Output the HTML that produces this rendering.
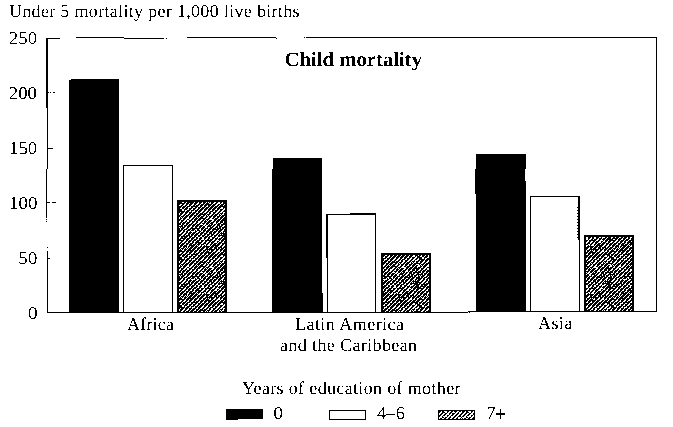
<!DOCTYPE html>
<html><head><meta charset="utf-8"><style>
html,body{margin:0;padding:0;background:#fff;width:673px;height:427px;overflow:hidden}
svg{display:block}
svg text{fill:#000;text-rendering:geometricPrecision}
svg{font-family:"Liberation Serif",serif;font-size:18px}
</style></head><body>
<svg width="673" height="427" viewBox="0 0 673 427">
<defs>
<filter id="thr" x="0" y="0" width="100%" height="100%" filterUnits="userSpaceOnUse" color-interpolation-filters="sRGB"><feComponentTransfer><feFuncA type="discrete" tableValues="0 0 1 1"/></feComponentTransfer></filter>
<pattern id="h" width="48" height="48" patternUnits="userSpaceOnUse">
<rect width="48" height="48" fill="#000"/>
<path fill="#fff" d="M0 0h1v1h-1zM4 0h1v1h-1zM8 0h1v1h-1zM12 0h1v1h-1zM20 0h2v1h-2zM24 0h3v1h-3zM28 0h1v1h-1zM32 0h1v1h-1zM40 0h2v1h-2zM44 0h1v1h-1zM2 1h2v1h-2zM7 1h2v1h-2zM11 1h2v1h-2zM15 1h2v1h-2zM19 1h1v1h-1zM23 1h2v1h-2zM27 1h2v1h-2zM31 1h1v1h-1zM35 1h2v1h-2zM39 1h2v1h-2zM43 1h1v1h-1zM47 1h1v1h-1zM2 2h1v1h-1zM10 2h2v1h-2zM14 2h2v1h-2zM18 2h1v1h-1zM22 2h3v1h-3zM26 2h1v1h-1zM30 2h2v1h-2zM34 2h2v1h-2zM38 2h2v1h-2zM42 2h2v1h-2zM46 2h2v1h-2zM1 3h2v1h-2zM5 3h1v1h-1zM9 3h2v1h-2zM14 3h1v1h-1zM17 3h2v1h-2zM21 3h1v1h-1zM25 3h1v1h-1zM29 3h1v1h-1zM33 3h1v1h-1zM37 3h1v1h-1zM41 3h1v1h-1zM45 3h1v1h-1zM0 4h1v1h-1zM4 4h1v1h-1zM8 4h1v1h-1zM12 4h2v1h-2zM16 4h2v1h-2zM20 4h1v1h-1zM24 4h1v1h-1zM28 4h2v1h-2zM32 4h1v1h-1zM36 4h1v1h-1zM40 4h2v1h-2zM44 4h1v1h-1zM3 5h1v1h-1zM5 5h1v1h-1zM7 5h2v1h-2zM10 5h2v1h-2zM13 5h1v1h-1zM15 5h3v1h-3zM19 5h1v1h-1zM27 5h2v1h-2zM31 5h2v1h-2zM35 5h1v1h-1zM39 5h1v1h-1zM43 5h2v1h-2zM2 6h1v1h-1zM6 6h2v1h-2zM10 6h1v1h-1zM18 6h1v1h-1zM22 6h1v1h-1zM26 6h2v1h-2zM30 6h2v1h-2zM34 6h2v1h-2zM38 6h1v1h-1zM43 6h1v1h-1zM46 6h1v1h-1zM1 7h1v1h-1zM5 7h1v1h-1zM9 7h1v1h-1zM13 7h1v1h-1zM17 7h1v1h-1zM21 7h1v1h-1zM25 7h1v1h-1zM30 7h1v1h-1zM33 7h1v1h-1zM37 7h2v1h-2zM41 7h1v1h-1zM43 7h1v1h-1zM45 7h1v1h-1zM0 8h1v1h-1zM4 8h1v1h-1zM8 8h1v1h-1zM12 8h2v1h-2zM16 8h1v1h-1zM20 8h2v1h-2zM25 8h1v1h-1zM28 8h1v1h-1zM32 8h1v1h-1zM36 8h1v1h-1zM40 8h1v1h-1zM42 8h1v1h-1zM44 8h1v1h-1zM3 9h2v1h-2zM7 9h1v1h-1zM11 9h2v1h-2zM23 9h1v1h-1zM27 9h1v1h-1zM31 9h1v1h-1zM35 9h1v1h-1zM37 9h1v1h-1zM39 9h1v1h-1zM43 9h1v1h-1zM47 9h1v1h-1zM2 10h1v1h-1zM6 10h1v1h-1zM10 10h1v1h-1zM14 10h1v1h-1zM16 10h1v1h-1zM18 10h1v1h-1zM22 10h2v1h-2zM26 10h2v1h-2zM30 10h1v1h-1zM33 10h2v1h-2zM38 10h2v1h-2zM42 10h1v1h-1zM1 11h1v1h-1zM5 11h2v1h-2zM9 11h2v1h-2zM13 11h1v1h-1zM17 11h2v1h-2zM21 11h2v1h-2zM25 11h3v1h-3zM29 11h2v1h-2zM33 11h1v1h-1zM41 11h1v1h-1zM45 11h1v1h-1zM0 12h2v1h-2zM4 12h2v1h-2zM8 12h1v1h-1zM12 12h1v1h-1zM20 12h1v1h-1zM24 12h2v1h-2zM28 12h1v1h-1zM32 12h1v1h-1zM36 12h2v1h-2zM40 12h2v1h-2zM44 12h1v1h-1zM0 13h1v1h-1zM3 13h1v1h-1zM7 13h1v1h-1zM11 13h1v1h-1zM15 13h1v1h-1zM19 13h1v1h-1zM23 13h2v1h-2zM27 13h1v1h-1zM31 13h1v1h-1zM35 13h2v1h-2zM39 13h2v1h-2zM43 13h2v1h-2zM47 13h1v1h-1zM6 14h2v1h-2zM10 14h2v1h-2zM14 14h2v1h-2zM18 14h1v1h-1zM22 14h1v1h-1zM26 14h1v1h-1zM34 14h1v1h-1zM38 14h1v1h-1zM42 14h1v1h-1zM46 14h1v1h-1zM1 15h2v1h-2zM5 15h1v1h-1zM9 15h1v1h-1zM13 15h1v1h-1zM17 15h1v1h-1zM21 15h1v1h-1zM25 15h1v1h-1zM29 15h2v1h-2zM34 15h1v1h-1zM37 15h1v1h-1zM41 15h1v1h-1zM44 15h3v1h-3zM0 16h1v1h-1zM4 16h2v1h-2zM8 16h1v1h-1zM12 16h1v1h-1zM16 16h1v1h-1zM20 16h1v1h-1zM24 16h1v1h-1zM28 16h3v1h-3zM32 16h1v1h-1zM36 16h2v1h-2zM40 16h1v1h-1zM44 16h1v1h-1zM0 17h1v1h-1zM3 17h2v1h-2zM7 17h1v1h-1zM11 17h1v1h-1zM15 17h1v1h-1zM19 17h1v1h-1zM23 17h2v1h-2zM27 17h1v1h-1zM31 17h2v1h-2zM38 17h2v1h-2zM43 17h2v1h-2zM47 17h1v1h-1zM2 18h1v1h-1zM6 18h1v1h-1zM10 18h2v1h-2zM14 18h2v1h-2zM18 18h2v1h-2zM22 18h1v1h-1zM26 18h2v1h-2zM30 18h2v1h-2zM34 18h1v1h-1zM38 18h2v1h-2zM41 18h2v1h-2zM46 18h1v1h-1zM0 19h3v1h-3zM5 19h1v1h-1zM9 19h2v1h-2zM13 19h2v1h-2zM17 19h1v1h-1zM21 19h2v1h-2zM25 19h2v1h-2zM29 19h2v1h-2zM33 19h2v1h-2zM41 19h1v1h-1zM45 19h2v1h-2zM0 20h1v1h-1zM4 20h2v1h-2zM8 20h2v1h-2zM12 20h2v1h-2zM16 20h1v1h-1zM19 20h2v1h-2zM24 20h2v1h-2zM28 20h2v1h-2zM31 20h3v1h-3zM36 20h1v1h-1zM40 20h1v1h-1zM44 20h1v1h-1zM3 21h1v1h-1zM7 21h1v1h-1zM11 21h1v1h-1zM15 21h2v1h-2zM19 21h2v1h-2zM23 21h2v1h-2zM27 21h1v1h-1zM31 21h1v1h-1zM35 21h1v1h-1zM39 21h2v1h-2zM43 21h2v1h-2zM47 21h1v1h-1zM2 22h2v1h-2zM6 22h1v1h-1zM14 22h1v1h-1zM18 22h2v1h-2zM22 22h1v1h-1zM26 22h1v1h-1zM28 22h1v1h-1zM30 22h2v1h-2zM34 22h2v1h-2zM38 22h2v1h-2zM42 22h2v1h-2zM46 22h1v1h-1zM1 23h1v1h-1zM5 23h1v1h-1zM9 23h2v1h-2zM13 23h1v1h-1zM15 23h1v1h-1zM17 23h2v1h-2zM21 23h1v1h-1zM25 23h2v1h-2zM29 23h1v1h-1zM37 23h2v1h-2zM41 23h1v1h-1zM45 23h1v1h-1zM0 24h2v1h-2zM4 24h1v1h-1zM8 24h1v1h-1zM12 24h2v1h-2zM16 24h1v1h-1zM20 24h1v1h-1zM24 24h1v1h-1zM28 24h1v1h-1zM32 24h3v1h-3zM36 24h1v1h-1zM40 24h1v1h-1zM44 24h1v1h-1zM0 25h1v1h-1zM3 25h1v1h-1zM5 25h1v1h-1zM7 25h1v1h-1zM11 25h2v1h-2zM15 25h2v1h-2zM19 25h2v1h-2zM23 25h2v1h-2zM27 25h1v1h-1zM31 25h1v1h-1zM34 25h2v1h-2zM37 25h1v1h-1zM39 25h1v1h-1zM43 25h2v1h-2zM47 25h1v1h-1zM2 26h1v1h-1zM6 26h1v1h-1zM14 26h2v1h-2zM18 26h2v1h-2zM22 26h1v1h-1zM26 26h2v1h-2zM30 26h1v1h-1zM33 26h3v1h-3zM38 26h1v1h-1zM42 26h3v1h-3zM46 26h2v1h-2zM1 27h1v1h-1zM5 27h1v1h-1zM9 27h2v1h-2zM13 27h1v1h-1zM17 27h5v1h-5zM25 27h1v1h-1zM29 27h1v1h-1zM33 27h1v1h-1zM37 27h2v1h-2zM41 27h2v1h-2zM45 27h2v1h-2zM0 28h2v1h-2zM4 28h1v1h-1zM8 28h2v1h-2zM12 28h1v1h-1zM14 28h1v1h-1zM16 28h1v1h-1zM20 28h2v1h-2zM24 28h1v1h-1zM28 28h1v1h-1zM36 28h1v1h-1zM40 28h2v1h-2zM43 28h2v1h-2zM3 29h1v1h-1zM6 29h3v1h-3zM11 29h1v1h-1zM15 29h1v1h-1zM19 29h2v1h-2zM23 29h1v1h-1zM27 29h1v1h-1zM31 29h1v1h-1zM35 29h2v1h-2zM39 29h2v1h-2zM43 29h2v1h-2zM47 29h1v1h-1zM2 30h2v1h-2zM6 30h2v1h-2zM10 30h2v1h-2zM14 30h1v1h-1zM18 30h1v1h-1zM22 30h2v1h-2zM26 30h2v1h-2zM31 30h1v1h-1zM34 30h2v1h-2zM38 30h1v1h-1zM42 30h1v1h-1zM46 30h2v1h-2zM1 31h2v1h-2zM5 31h2v1h-2zM9 31h1v1h-1zM13 31h1v1h-1zM17 31h1v1h-1zM21 31h3v1h-3zM25 31h1v1h-1zM29 31h2v1h-2zM33 31h1v1h-1zM37 31h1v1h-1zM41 31h1v1h-1zM45 31h2v1h-2zM0 32h1v1h-1zM4 32h1v1h-1zM8 32h3v1h-3zM12 32h2v1h-2zM16 32h1v1h-1zM18 32h1v1h-1zM21 32h1v1h-1zM24 32h1v1h-1zM28 32h1v1h-1zM37 32h1v1h-1zM40 32h2v1h-2zM44 32h1v1h-1zM3 33h1v1h-1zM7 33h1v1h-1zM11 33h2v1h-2zM14 33h2v1h-2zM20 33h1v1h-1zM23 33h2v1h-2zM28 33h1v1h-1zM31 33h2v1h-2zM35 33h2v1h-2zM39 33h1v1h-1zM43 33h1v1h-1zM47 33h1v1h-1zM2 34h1v1h-1zM6 34h1v1h-1zM10 34h1v1h-1zM13 34h2v1h-2zM19 34h1v1h-1zM22 34h2v1h-2zM26 34h1v1h-1zM30 34h2v1h-2zM39 34h1v1h-1zM42 34h1v1h-1zM46 34h2v1h-2zM1 35h2v1h-2zM5 35h2v1h-2zM9 35h1v1h-1zM13 35h2v1h-2zM16 35h2v1h-2zM21 35h2v1h-2zM26 35h1v1h-1zM29 35h1v1h-1zM33 35h1v1h-1zM35 35h1v1h-1zM37 35h1v1h-1zM41 35h2v1h-2zM45 35h2v1h-2zM8 36h1v1h-1zM12 36h1v1h-1zM16 36h1v1h-1zM20 36h1v1h-1zM24 36h1v1h-1zM29 36h1v1h-1zM32 36h2v1h-2zM36 36h1v1h-1zM40 36h2v1h-2zM44 36h2v1h-2zM3 37h2v1h-2zM7 37h2v1h-2zM11 37h1v1h-1zM14 37h2v1h-2zM19 37h1v1h-1zM27 37h1v1h-1zM31 37h1v1h-1zM36 37h1v1h-1zM39 37h1v1h-1zM43 37h1v1h-1zM47 37h1v1h-1zM2 38h1v1h-1zM4 38h1v1h-1zM8 38h1v1h-1zM10 38h1v1h-1zM14 38h1v1h-1zM18 38h2v1h-2zM22 38h2v1h-2zM26 38h1v1h-1zM30 38h2v1h-2zM38 38h1v1h-1zM41 38h2v1h-2zM46 38h1v1h-1zM0 39h3v1h-3zM5 39h2v1h-2zM9 39h2v1h-2zM13 39h1v1h-1zM17 39h1v1h-1zM21 39h1v1h-1zM25 39h1v1h-1zM29 39h2v1h-2zM33 39h1v1h-1zM37 39h2v1h-2zM41 39h1v1h-1zM44 39h2v1h-2zM47 39h1v1h-1zM0 40h1v1h-1zM4 40h2v1h-2zM8 40h1v1h-1zM12 40h2v1h-2zM16 40h1v1h-1zM20 40h1v1h-1zM24 40h2v1h-2zM28 40h1v1h-1zM30 40h1v1h-1zM32 40h1v1h-1zM36 40h2v1h-2zM40 40h2v1h-2zM44 40h1v1h-1zM3 41h1v1h-1zM7 41h1v1h-1zM11 41h1v1h-1zM15 41h2v1h-2zM20 41h1v1h-1zM23 41h2v1h-2zM27 41h1v1h-1zM35 41h2v1h-2zM39 41h2v1h-2zM43 41h1v1h-1zM47 41h1v1h-1zM2 42h1v1h-1zM6 42h2v1h-2zM10 42h2v1h-2zM14 42h1v1h-1zM18 42h1v1h-1zM22 42h2v1h-2zM26 42h1v1h-1zM28 42h1v1h-1zM30 42h1v1h-1zM38 42h2v1h-2zM42 42h2v1h-2zM46 42h1v1h-1zM1 43h1v1h-1zM5 43h1v1h-1zM9 43h1v1h-1zM13 43h2v1h-2zM17 43h2v1h-2zM21 43h1v1h-1zM25 43h1v1h-1zM34 43h1v1h-1zM37 43h2v1h-2zM41 43h1v1h-1zM46 43h1v1h-1zM0 44h2v1h-2zM4 44h2v1h-2zM8 44h2v1h-2zM12 44h1v1h-1zM16 44h1v1h-1zM20 44h2v1h-2zM24 44h2v1h-2zM28 44h2v1h-2zM36 44h1v1h-1zM44 44h1v1h-1zM3 45h1v1h-1zM6 45h2v1h-2zM10 45h2v1h-2zM15 45h1v1h-1zM18 45h2v1h-2zM23 45h2v1h-2zM26 45h3v1h-3zM31 45h1v1h-1zM35 45h2v1h-2zM39 45h1v1h-1zM43 45h2v1h-2zM47 45h1v1h-1zM2 46h2v1h-2zM6 46h1v1h-1zM10 46h2v1h-2zM14 46h2v1h-2zM18 46h2v1h-2zM22 46h1v1h-1zM26 46h1v1h-1zM30 46h1v1h-1zM35 46h1v1h-1zM42 46h1v1h-1zM46 46h1v1h-1zM1 47h1v1h-1zM5 47h2v1h-2zM9 47h3v1h-3zM13 47h2v1h-2zM17 47h1v1h-1zM21 47h2v1h-2zM25 47h1v1h-1zM29 47h1v1h-1zM37 47h2v1h-2zM41 47h1v1h-1zM45 47h2v1h-2z"/>
</pattern>
<pattern id="hl" width="24" height="24" patternUnits="userSpaceOnUse">
<rect width="24" height="24" fill="#000"/>
<path fill="#fff" d="M0 0h2v1h-2zM4 0h3v1h-3zM8 0h2v1h-2zM11 0h3v1h-3zM17 0h1v1h-1zM20 0h2v1h-2zM0 1h1v1h-1zM2 1h3v1h-3zM7 1h2v1h-2zM11 1h2v1h-2zM15 1h2v1h-2zM19 1h3v1h-3zM23 1h1v1h-1zM0 2h1v1h-1zM2 2h2v1h-2zM6 2h2v1h-2zM9 2h2v1h-2zM15 2h1v1h-1zM22 2h2v1h-2zM1 3h2v1h-2zM5 3h1v1h-1zM9 3h1v1h-1zM12 3h3v1h-3zM17 3h2v1h-2zM21 3h1v1h-1zM0 4h2v1h-2zM3 4h3v1h-3zM8 4h2v1h-2zM13 4h2v1h-2zM16 4h2v1h-2zM20 4h3v1h-3zM0 5h1v1h-1zM3 5h2v1h-2zM7 5h2v1h-2zM11 5h2v1h-2zM15 5h2v1h-2zM19 5h1v1h-1zM23 5h1v1h-1zM2 6h2v1h-2zM6 6h2v1h-2zM10 6h2v1h-2zM14 6h3v1h-3zM18 6h2v1h-2zM22 6h2v1h-2zM1 7h2v1h-2zM5 7h2v1h-2zM9 7h2v1h-2zM13 7h2v1h-2zM17 7h2v1h-2zM21 7h2v1h-2zM0 8h2v1h-2zM5 8h1v1h-1zM8 8h2v1h-2zM11 8h4v1h-4zM16 8h2v1h-2zM19 8h3v1h-3zM0 9h1v1h-1zM2 9h3v1h-3zM6 9h4v1h-4zM12 9h1v1h-1zM15 9h2v1h-2zM19 9h2v1h-2zM23 9h1v1h-1zM2 10h2v1h-2zM5 10h1v1h-1zM7 10h1v1h-1zM10 10h2v1h-2zM14 10h2v1h-2zM18 10h2v1h-2zM22 10h2v1h-2zM1 11h2v1h-2zM5 11h2v1h-2zM9 11h2v1h-2zM12 11h3v1h-3zM17 11h2v1h-2zM21 11h2v1h-2zM0 12h2v1h-2zM3 12h3v1h-3zM8 12h2v1h-2zM12 12h3v1h-3zM16 12h2v1h-2zM21 12h1v1h-1zM0 13h1v1h-1zM3 13h2v1h-2zM7 13h2v1h-2zM10 13h3v1h-3zM15 13h2v1h-2zM19 13h2v1h-2zM23 13h1v1h-1zM1 14h3v1h-3zM7 14h1v1h-1zM10 14h1v1h-1zM14 14h2v1h-2zM18 14h2v1h-2zM22 14h2v1h-2zM4 15h1v1h-1zM6 15h1v1h-1zM9 15h2v1h-2zM13 15h2v1h-2zM16 15h3v1h-3zM21 15h2v1h-2zM0 16h2v1h-2zM4 16h2v1h-2zM8 16h2v1h-2zM13 16h2v1h-2zM16 16h2v1h-2zM20 16h3v1h-3zM3 17h3v1h-3zM7 17h2v1h-2zM11 17h2v1h-2zM15 17h2v1h-2zM19 17h2v1h-2zM23 17h1v1h-1zM2 18h5v1h-5zM10 18h1v1h-1zM14 18h2v1h-2zM17 18h3v1h-3zM22 18h2v1h-2zM1 19h2v1h-2zM5 19h1v1h-1zM9 19h2v1h-2zM13 19h1v1h-1zM17 19h2v1h-2zM22 19h2v1h-2zM0 20h2v1h-2zM4 20h2v1h-2zM8 20h2v1h-2zM12 20h2v1h-2zM15 20h1v1h-1zM17 20h1v1h-1zM19 20h3v1h-3zM1 21h1v1h-1zM3 21h3v1h-3zM8 21h2v1h-2zM11 21h6v1h-6zM19 21h1v1h-1zM22 21h2v1h-2zM2 22h3v1h-3zM6 22h2v1h-2zM10 22h2v1h-2zM14 22h3v1h-3zM19 22h1v1h-1zM22 22h1v1h-1zM2 23h1v1h-1zM6 23h2v1h-2zM9 23h3v1h-3zM13 23h2v1h-2zM17 23h2v1h-2zM21 23h2v1h-2z"/>
</pattern>
</defs>
<g shape-rendering="crispEdges">
<!-- frame -->
<path fill="#000" d="M46 38h2v70h-2zM47 108h1v61h-1zM46 169h1v49h-1zM46 219h1v1h-1zM46 221h1v1h-1zM47 247h1v1h-1zM47 251h1v62h-1z
M46 38h14v1h-14zM76 37h48v1h-48zM124 38h40v1h-40zM166 38h1v1h-1zM187 37h89v1h-89zM276 38h1v1h-1zM304 37h1v1h-1zM306 37h351v1h-351z
M656 37h1v275h-1zM47 312h421v1h-421zM468 311h189v1h-189zM469 312h1v1h-1z
M48 92h1v1h-1zM50 92h1v1h-1zM53 92h2v1h-2zM47 148h6v1h-6zM47 202h3v1h-3zM52 202h4v1h-4zM48 258h2v1h-2z"/>
<!-- Africa -->
<path fill="#000" d="M71 79h48v233h-48zM69 80h2v232h-2z"/>
<rect x="123.5" y="165.5" width="49" height="146.5" fill="none" stroke="#000" stroke-width="1"/>
<rect x="177" y="200" width="50" height="112" fill="url(#h)"/>
<path fill="#000" d="M177 200h50v2h-50zM177 200h2v112h-2zM225 200h2v112h-2z"/>
<!-- Latin America -->
<path fill="#000" d="M273 158h49v154h-49zM272 169h1v143h-1zM322 301h1v11h-1z"/>
<path fill="#000" d="M326 214h2v44h-2zM327 258h1v54h-1zM326 214h50v1h-50zM350 213h26v1h-26zM375 213h1v99h-1zM322 293h1v19h-1z"/>
<rect x="381" y="253" width="50" height="59" fill="url(#h)"/>
<path fill="#000" d="M381 253h50v2h-50zM381 253h2v59h-2zM429 253h2v59h-2z"/>
<!-- Asia -->
<path fill="#000" d="M476 154h49v157h-49zM525 154h1v15h-1zM525 181h1v130h-1zM475 169h1v25h-1z"/>
<rect x="530.5" y="196.5" width="49" height="114.5" fill="none" stroke="#000" stroke-width="1"/>
<path fill="#000" d="M578 196h1v44h-1zM577 207h1v1h-1zM577 210h1v1h-1zM577 213h1v1h-1zM577 216h1v1h-1zM577 219h1v1h-1zM577 222h1v1h-1zM577 225h1v1h-1zM577 228h1v1h-1zM577 231h1v1h-1zM577 234h1v1h-1zM577 237h1v1h-1z"/>
<rect x="584" y="235" width="50" height="76" fill="url(#h)"/>
<path fill="#000" d="M584 235h50v2h-50zM584 235h2v76h-2zM632 235h2v76h-2z"/>
<!-- legend boxes -->
<path fill="#000" d="M226 409h37v10h-37zM226 419h12v1h-12z"/>
<rect x="329.5" y="410.5" width="36" height="9" fill="none" stroke="#000" stroke-width="1"/>
<rect x="438" y="410" width="37" height="10" fill="url(#hl)"/>
<path fill="#000" d="M438 410h37v1h-37zM438 419h37v1h-37zM438 410h1v10h-1zM474 410h1v10h-1z"/>
</g>
<g filter="url(#thr)">
<text x="9" y="17" textLength="290.5" lengthAdjust="spacing">Under 5 mortality per 1,000 live births</text>
<g text-anchor="end" style="font-size:18px">
<text transform="translate(37.3 44)" textLength="28.6" lengthAdjust="spacingAndGlyphs">250</text>
<text transform="translate(37 99)" textLength="28.2" lengthAdjust="spacingAndGlyphs">200</text>
<text transform="translate(37.3 154)" textLength="28.4" lengthAdjust="spacingAndGlyphs">150</text>
<text transform="translate(37.5 209)" textLength="28.4" lengthAdjust="spacingAndGlyphs">100</text>
<text transform="translate(37.5 264)" textLength="19.3" lengthAdjust="spacingAndGlyphs">50</text>
<text transform="translate(37.8 319)" textLength="10" lengthAdjust="spacingAndGlyphs">0</text>
</g>
<text x="284.5" y="66" font-weight="bold" textLength="137.5" lengthAdjust="spacingAndGlyphs" style="font-size:20.5px">Child mortality</text>
<text x="127" y="330" textLength="47" lengthAdjust="spacing">Africa</text>
<text x="295" y="330" textLength="109" lengthAdjust="spacing">Latin America</text>
<text x="280" y="351" textLength="137" lengthAdjust="spacing">and the Caribbean</text>
<text x="538" y="329" textLength="34.2" lengthAdjust="spacing">Asia</text>
<text x="242" y="394" textLength="218.5" lengthAdjust="spacing">Years of education of mother</text>
<text x="273.3" y="419" textLength="10" lengthAdjust="spacingAndGlyphs">0</text>
<text x="377" y="419" textLength="28" lengthAdjust="spacingAndGlyphs" >4–6</text>
<text x="486.5" y="419">7</text>
</g>
<path fill="#000" shape-rendering="crispEdges" d="M496 413h9v2h-9zM500 409h1v10h-1z"/>
</svg>
</body></html>
